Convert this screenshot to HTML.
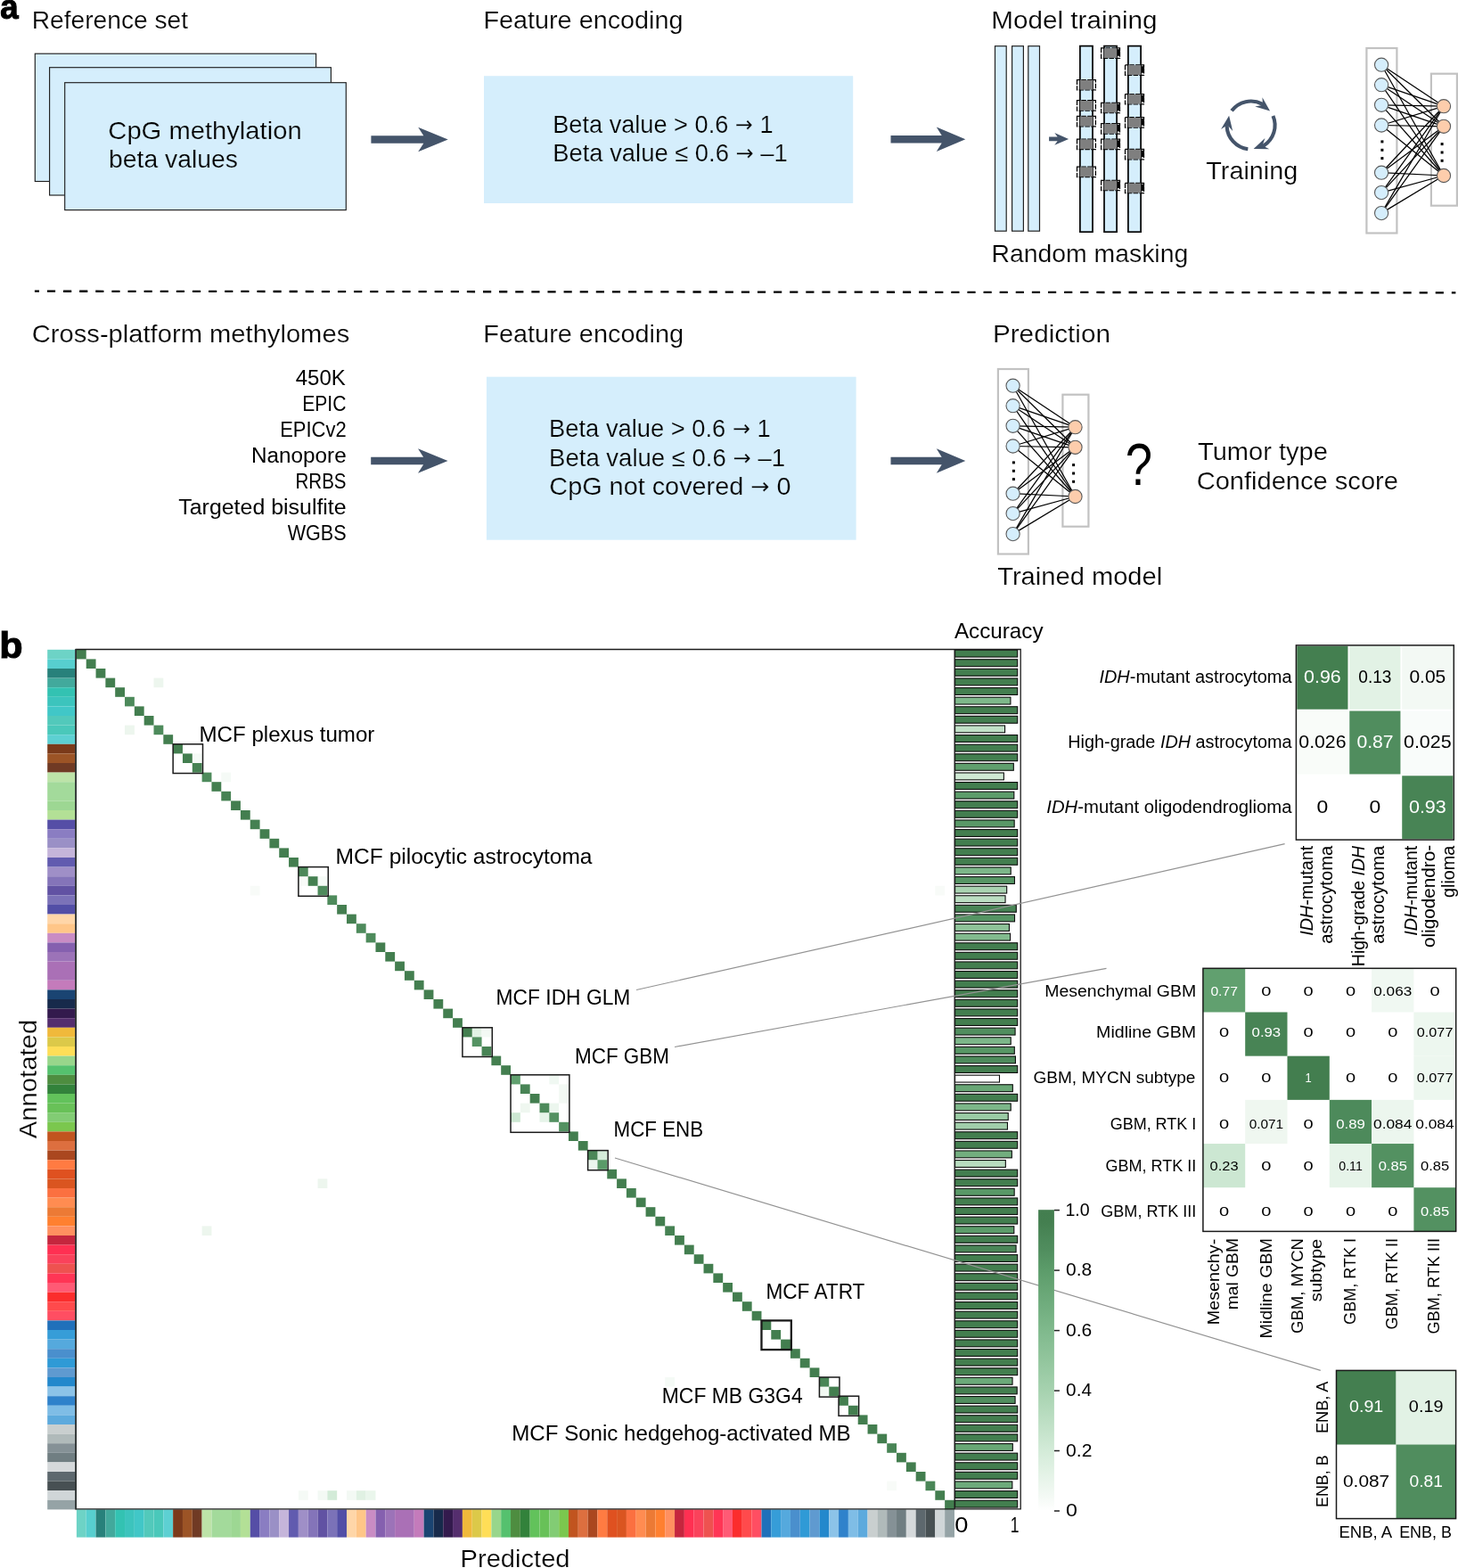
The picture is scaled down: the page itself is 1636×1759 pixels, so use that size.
<!DOCTYPE html>
<html lang="en"><head><meta charset="utf-8"><title>Figure</title>
<style>html,body{margin:0;padding:0;background:#fff}body{width:1636px;height:1759px;overflow:hidden}svg{display:block}</style>
</head><body>
<svg width="1636" height="1759" viewBox="0 0 1636 1759" font-family="'Liberation Sans', sans-serif" fill="#000">
<text font-size="38.5" font-weight="bold" stroke="#000" stroke-width="1.1" textLength="20.38" lengthAdjust="spacingAndGlyphs" x="0.29" y="21.00">a</text>
<text font-size="27.5" stroke="#fff" stroke-width="0.22" textLength="175.32" lengthAdjust="spacingAndGlyphs" x="35.75" y="32.10">Reference set</text>
<text font-size="27.5" stroke="#fff" stroke-width="0.22" textLength="224.13" lengthAdjust="spacingAndGlyphs" x="542.40" y="32.10">Feature encoding</text>
<text font-size="27.5" stroke="#fff" stroke-width="0.22" textLength="186.17" lengthAdjust="spacingAndGlyphs" x="1112.33" y="32.10">Model training</text>
<rect x="39.3" y="60.2" width="315.3" height="143.3" fill="#d5eefc" stroke="#1f1f1f" stroke-width="1.15"/>
<rect x="55.6" y="75.7" width="315.8" height="143.3" fill="#d5eefc" stroke="#1f1f1f" stroke-width="1.15"/>
<rect x="72.7" y="92.7" width="315.6" height="142.9" fill="#d5eefc" stroke="#1f1f1f" stroke-width="1.15"/>
<text font-size="27.5" stroke="#d5eefc" stroke-width="0.22" textLength="217.30" lengthAdjust="spacingAndGlyphs" x="121.34" y="155.80">CpG methylation</text>
<text font-size="27.5" stroke="#d5eefc" stroke-width="0.22" textLength="144.86" lengthAdjust="spacingAndGlyphs" x="122.03" y="188.20">beta values</text>
<polygon points="416.4,152.2 475.3,152.2 469.2,142.8 502.7,156.5 469.2,170.2 475.3,160.8 416.4,160.8" fill="#44546a"/>
<rect x="543" y="85.2" width="414.2" height="142.8" fill="#d5eefc"/>
<text font-size="27.5" stroke="#d5eefc" stroke-width="0.22" textLength="247.30" lengthAdjust="spacingAndGlyphs" x="620.23" y="148.60">Beta value &gt; 0.6 <tspan font-family="'DejaVu Sans', 'Liberation Sans', sans-serif" font-size="24.2" dy="-1.0">→</tspan><tspan dy="1.0"> 1</tspan></text>
<text font-size="27.5" stroke="#d5eefc" stroke-width="0.22" textLength="263.60" lengthAdjust="spacingAndGlyphs" x="620.21" y="180.90">Beta value ≤ 0.6 <tspan font-family="'DejaVu Sans', 'Liberation Sans', sans-serif" font-size="24.2" dy="-1.0">→</tspan><tspan dy="1.0"> –1</tspan></text>
<polygon points="999.5,152.1 1056.7,152.1 1050.8,142.6 1083.3,156.3 1050.8,170.0 1056.7,160.6 999.5,160.6" fill="#44546a"/>
<rect x="1116.5" y="51.7" width="12.7" height="207.5" fill="#d5eefc" stroke="#222" stroke-width="1.2"/>
<rect x="1135.6" y="51.7" width="12.8" height="207.5" fill="#d5eefc" stroke="#222" stroke-width="1.2"/>
<rect x="1153.8" y="51.7" width="12.7" height="207.5" fill="#d5eefc" stroke="#222" stroke-width="1.2"/>
<polygon points="1177.1,153.6 1186.6,153.6 1183.3,149.0 1199.1,155.9 1183.3,162.8 1186.6,158.2 1177.1,158.2" fill="#44546a"/>
<rect x="1211.9" y="51.6" width="14.1" height="208.6" fill="#d5eefc" stroke="#000" stroke-width="1.7"/>
<rect x="1208.5" y="89.5" width="20.9" height="11.4" fill="none" stroke="#000" stroke-width="1.25" stroke-dasharray="5.5 1.3" stroke-dashoffset="2"/>
<rect x="1211.8" y="89.8" width="14.3" height="10.8" fill="#7f7f7f"/>
<rect x="1208.5" y="112.7" width="20.9" height="11.4" fill="none" stroke="#000" stroke-width="1.25" stroke-dasharray="5.5 1.3" stroke-dashoffset="2"/>
<rect x="1211.8" y="113.0" width="14.3" height="10.8" fill="#7f7f7f"/>
<rect x="1208.5" y="130.4" width="20.9" height="11.4" fill="none" stroke="#000" stroke-width="1.25" stroke-dasharray="5.5 1.3" stroke-dashoffset="2"/>
<rect x="1211.8" y="130.7" width="14.3" height="10.8" fill="#7f7f7f"/>
<rect x="1208.5" y="156.1" width="20.9" height="11.4" fill="none" stroke="#000" stroke-width="1.25" stroke-dasharray="5.5 1.3" stroke-dashoffset="2"/>
<rect x="1211.8" y="156.4" width="14.3" height="10.8" fill="#7f7f7f"/>
<rect x="1208.5" y="187.2" width="20.9" height="11.4" fill="none" stroke="#000" stroke-width="1.25" stroke-dasharray="5.5 1.3" stroke-dashoffset="2"/>
<rect x="1211.8" y="187.5" width="14.3" height="10.8" fill="#7f7f7f"/>
<rect x="1239.0" y="51.6" width="14.1" height="208.6" fill="#d5eefc" stroke="#000" stroke-width="1.7"/>
<rect x="1235.6" y="53.9" width="20.9" height="11.4" fill="none" stroke="#000" stroke-width="1.25" stroke-dasharray="5.5 1.3" stroke-dashoffset="2"/>
<rect x="1238.9" y="54.2" width="14.3" height="10.8" fill="#7f7f7f"/>
<rect x="1254.0" y="55.2" width="3" height="7.6" fill="#000"/>
<rect x="1235.6" y="115.3" width="20.9" height="11.4" fill="none" stroke="#000" stroke-width="1.25" stroke-dasharray="5.5 1.3" stroke-dashoffset="2"/>
<rect x="1238.9" y="115.6" width="14.3" height="10.8" fill="#7f7f7f"/>
<rect x="1254.0" y="116.6" width="3" height="7.6" fill="#000"/>
<rect x="1235.6" y="138.6" width="20.9" height="11.4" fill="none" stroke="#000" stroke-width="1.25" stroke-dasharray="5.5 1.3" stroke-dashoffset="2"/>
<rect x="1238.9" y="138.9" width="14.3" height="10.8" fill="#7f7f7f"/>
<rect x="1254.0" y="139.9" width="3" height="7.6" fill="#000"/>
<rect x="1235.6" y="156.1" width="20.9" height="11.4" fill="none" stroke="#000" stroke-width="1.25" stroke-dasharray="5.5 1.3" stroke-dashoffset="2"/>
<rect x="1238.9" y="156.4" width="14.3" height="10.8" fill="#7f7f7f"/>
<rect x="1254.0" y="157.4" width="3" height="7.6" fill="#000"/>
<rect x="1235.6" y="202.3" width="20.9" height="11.4" fill="none" stroke="#000" stroke-width="1.25" stroke-dasharray="5.5 1.3" stroke-dashoffset="2"/>
<rect x="1238.9" y="202.6" width="14.3" height="10.8" fill="#7f7f7f"/>
<rect x="1254.0" y="203.6" width="3" height="7.6" fill="#000"/>
<rect x="1265.9" y="51.6" width="14.2" height="208.6" fill="#d5eefc" stroke="#000" stroke-width="1.7"/>
<rect x="1262.5" y="72.9" width="21.0" height="11.4" fill="none" stroke="#000" stroke-width="1.25" stroke-dasharray="5.5 1.3" stroke-dashoffset="2"/>
<rect x="1265.8" y="73.2" width="14.4" height="10.8" fill="#7f7f7f"/>
<rect x="1281.0" y="74.2" width="3" height="7.6" fill="#000"/>
<rect x="1262.5" y="105.5" width="21.0" height="11.4" fill="none" stroke="#000" stroke-width="1.25" stroke-dasharray="5.5 1.3" stroke-dashoffset="2"/>
<rect x="1265.8" y="105.8" width="14.4" height="10.8" fill="#7f7f7f"/>
<rect x="1281.0" y="106.8" width="3" height="7.6" fill="#000"/>
<rect x="1262.5" y="131.7" width="21.0" height="11.4" fill="none" stroke="#000" stroke-width="1.25" stroke-dasharray="5.5 1.3" stroke-dashoffset="2"/>
<rect x="1265.8" y="132.0" width="14.4" height="10.8" fill="#7f7f7f"/>
<rect x="1281.0" y="133.0" width="3" height="7.6" fill="#000"/>
<rect x="1262.5" y="167.4" width="21.0" height="11.4" fill="none" stroke="#000" stroke-width="1.25" stroke-dasharray="5.5 1.3" stroke-dashoffset="2"/>
<rect x="1265.8" y="167.7" width="14.4" height="10.8" fill="#7f7f7f"/>
<rect x="1281.0" y="168.7" width="3" height="7.6" fill="#000"/>
<rect x="1262.5" y="205.3" width="21.0" height="11.4" fill="none" stroke="#000" stroke-width="1.25" stroke-dasharray="5.5 1.3" stroke-dashoffset="2"/>
<rect x="1265.8" y="205.6" width="14.4" height="10.8" fill="#7f7f7f"/>
<rect x="1281.0" y="206.6" width="3" height="7.6" fill="#000"/>
<text font-size="27.5" stroke="#fff" stroke-width="0.22" textLength="220.78" lengthAdjust="spacingAndGlyphs" x="1112.43" y="293.80">Random masking</text>
<path d="M1382.04 124.25 A27.0 27.0 0 0 1 1416.28 116.66" fill="none" stroke="#44546a" stroke-width="4.1"/>
<polygon points="1416.46,109.14 1425.06,124.62 1408.20,119.60 1414.95,118.22 1416.77,114.66" fill="#44546a"/>
<path d="M1428.45 129.95 A27.0 27.0 0 0 1 1417.91 163.40" fill="none" stroke="#44546a" stroke-width="4.1"/>
<polygon points="1424.33,167.32 1406.62,167.03 1419.40,154.93 1417.22,161.47 1419.39,164.82" fill="#44546a"/>
<path d="M1400.31 167.30 A27.0 27.0 0 0 1 1376.62 141.44" fill="none" stroke="#44546a" stroke-width="4.1"/>
<polygon points="1370.01,145.04 1379.11,129.85 1383.20,146.97 1378.63,141.81 1374.64,142.02" fill="#44546a"/>
<text font-size="27.5" stroke="#fff" stroke-width="0.22" textLength="102.90" lengthAdjust="spacingAndGlyphs" x="1353.32" y="200.60">Training</text>
<rect x="1533.4" y="54.0" width="34" height="207.5" fill="none" stroke="#c2c2c2" stroke-width="2.2"/>
<rect x="1605.9" y="82.7" width="29" height="148" fill="none" stroke="#c2c2c2" stroke-width="2.2"/>
<line x1="1550.1" y1="72.7" x2="1620.0" y2="119.2" stroke="#000" stroke-width="1.25"/>
<line x1="1550.1" y1="72.7" x2="1620.0" y2="141.8" stroke="#000" stroke-width="1.25"/>
<line x1="1550.1" y1="72.7" x2="1620.0" y2="197.0" stroke="#000" stroke-width="1.25"/>
<line x1="1550.1" y1="95.2" x2="1620.0" y2="119.2" stroke="#000" stroke-width="1.25"/>
<line x1="1550.1" y1="95.2" x2="1620.0" y2="141.8" stroke="#000" stroke-width="1.25"/>
<line x1="1550.1" y1="95.2" x2="1620.0" y2="197.0" stroke="#000" stroke-width="1.25"/>
<line x1="1550.1" y1="117.8" x2="1620.0" y2="119.2" stroke="#000" stroke-width="1.25"/>
<line x1="1550.1" y1="117.8" x2="1620.0" y2="141.8" stroke="#000" stroke-width="1.25"/>
<line x1="1550.1" y1="117.8" x2="1620.0" y2="197.0" stroke="#000" stroke-width="1.25"/>
<line x1="1550.1" y1="140.5" x2="1620.0" y2="119.2" stroke="#000" stroke-width="1.25"/>
<line x1="1550.1" y1="140.5" x2="1620.0" y2="141.8" stroke="#000" stroke-width="1.25"/>
<line x1="1550.1" y1="140.5" x2="1620.0" y2="197.0" stroke="#000" stroke-width="1.25"/>
<line x1="1550.1" y1="193.7" x2="1620.0" y2="119.2" stroke="#000" stroke-width="1.25"/>
<line x1="1550.1" y1="193.7" x2="1620.0" y2="141.8" stroke="#000" stroke-width="1.25"/>
<line x1="1550.1" y1="193.7" x2="1620.0" y2="197.0" stroke="#000" stroke-width="1.25"/>
<line x1="1550.1" y1="216.1" x2="1620.0" y2="119.2" stroke="#000" stroke-width="1.25"/>
<line x1="1550.1" y1="216.1" x2="1620.0" y2="141.8" stroke="#000" stroke-width="1.25"/>
<line x1="1550.1" y1="216.1" x2="1620.0" y2="197.0" stroke="#000" stroke-width="1.25"/>
<line x1="1550.1" y1="239.1" x2="1620.0" y2="119.2" stroke="#000" stroke-width="1.25"/>
<line x1="1550.1" y1="239.1" x2="1620.0" y2="141.8" stroke="#000" stroke-width="1.25"/>
<line x1="1550.1" y1="239.1" x2="1620.0" y2="197.0" stroke="#000" stroke-width="1.25"/>
<circle cx="1550.1" cy="72.7" r="7.6" fill="#d5eefc" stroke="#5a5a5a" stroke-width="1.1"/>
<circle cx="1550.1" cy="95.2" r="7.6" fill="#d5eefc" stroke="#5a5a5a" stroke-width="1.1"/>
<circle cx="1550.1" cy="117.8" r="7.6" fill="#d5eefc" stroke="#5a5a5a" stroke-width="1.1"/>
<circle cx="1550.1" cy="140.5" r="7.6" fill="#d5eefc" stroke="#5a5a5a" stroke-width="1.1"/>
<circle cx="1550.1" cy="193.7" r="7.6" fill="#d5eefc" stroke="#5a5a5a" stroke-width="1.1"/>
<circle cx="1550.1" cy="216.1" r="7.6" fill="#d5eefc" stroke="#5a5a5a" stroke-width="1.1"/>
<circle cx="1550.1" cy="239.1" r="7.6" fill="#d5eefc" stroke="#5a5a5a" stroke-width="1.1"/>
<circle cx="1620.0" cy="119.2" r="7.6" fill="#fdcdac" stroke="#5a5a5a" stroke-width="1.1"/>
<circle cx="1620.0" cy="141.8" r="7.6" fill="#fdcdac" stroke="#5a5a5a" stroke-width="1.1"/>
<circle cx="1620.0" cy="197.0" r="7.6" fill="#fdcdac" stroke="#5a5a5a" stroke-width="1.1"/>
<rect x="1549.4" y="157.4" width="3" height="3" fill="#000"/>
<rect x="1549.4" y="166.8" width="3" height="3" fill="#000"/>
<rect x="1549.4" y="176.1" width="3" height="3" fill="#000"/>
<rect x="1616.6" y="160.1" width="3" height="3" fill="#000"/>
<rect x="1616.6" y="169.5" width="3" height="3" fill="#000"/>
<rect x="1616.6" y="178.8" width="3" height="3" fill="#000"/>
<line x1="38.9" y1="326.7" x2="1633.4" y2="328.4" stroke="#000" stroke-width="2.3" stroke-dasharray="9.2 8.914" stroke-dashoffset="4.1"/>
<text font-size="27.5" stroke="#fff" stroke-width="0.22" textLength="356.49" lengthAdjust="spacingAndGlyphs" x="35.74" y="383.90">Cross-platform methylomes</text>
<text font-size="27.5" stroke="#fff" stroke-width="0.22" textLength="224.64" lengthAdjust="spacingAndGlyphs" x="542.39" y="383.90">Feature encoding</text>
<text font-size="27.5" stroke="#fff" stroke-width="0.22" textLength="132.09" lengthAdjust="spacingAndGlyphs" x="1113.92" y="383.90">Prediction</text>
<text font-size="23.3" textLength="56.09" lengthAdjust="spacingAndGlyphs" x="331.76" y="431.80">450K</text>
<text font-size="23.3" textLength="49.15" lengthAdjust="spacingAndGlyphs" x="339.22" y="460.60">EPIC</text>
<text font-size="23.3" textLength="74.40" lengthAdjust="spacingAndGlyphs" x="314.24" y="489.60">EPICv2</text>
<text font-size="23.3" textLength="106.63" lengthAdjust="spacingAndGlyphs" x="282.06" y="518.70">Nanopore</text>
<text font-size="23.3" textLength="56.93" lengthAdjust="spacingAndGlyphs" x="331.56" y="547.60">RRBS</text>
<text font-size="23.3" textLength="188.37" lengthAdjust="spacingAndGlyphs" x="200.30" y="576.90">Targeted bisulfite</text>
<text font-size="23.3" textLength="65.94" lengthAdjust="spacingAndGlyphs" x="322.65" y="605.60">WGBS</text>
<polygon points="416.2,512.8 475.1,512.8 469.0,503.3 502.5,517.0 469.0,530.7 475.1,521.2 416.2,521.2" fill="#44546a"/>
<rect x="545.9" y="422.7" width="414.7" height="183" fill="#d5eefc"/>
<text font-size="27.5" stroke="#d5eefc" stroke-width="0.22" textLength="248.72" lengthAdjust="spacingAndGlyphs" x="616.11" y="489.50">Beta value &gt; 0.6 <tspan font-family="'DejaVu Sans', 'Liberation Sans', sans-serif" font-size="24.2" dy="-1.0">→</tspan><tspan dy="1.0"> 1</tspan></text>
<text font-size="27.5" stroke="#d5eefc" stroke-width="0.22" textLength="264.91" lengthAdjust="spacingAndGlyphs" x="616.10" y="522.50">Beta value ≤ 0.6 <tspan font-family="'DejaVu Sans', 'Liberation Sans', sans-serif" font-size="24.2" dy="-1.0">→</tspan><tspan dy="1.0"> –1</tspan></text>
<text font-size="27.5" stroke="#d5eefc" stroke-width="0.22" textLength="271.17" lengthAdjust="spacingAndGlyphs" x="616.36" y="554.90">CpG not covered <tspan font-family="'DejaVu Sans', 'Liberation Sans', sans-serif" font-size="24.2" dy="-1.0">→</tspan><tspan dy="1.0"> 0</tspan></text>
<polygon points="999.5,512.8 1056.7,512.8 1050.8,503.3 1083.3,517.0 1050.8,530.7 1056.7,521.2 999.5,521.2" fill="#44546a"/>
<rect x="1119.9" y="414.0" width="34" height="207.5" fill="none" stroke="#c2c2c2" stroke-width="2.2"/>
<rect x="1192.4" y="442.7" width="29" height="148" fill="none" stroke="#c2c2c2" stroke-width="2.2"/>
<line x1="1136.6" y1="432.7" x2="1206.5" y2="479.2" stroke="#000" stroke-width="1.25"/>
<line x1="1136.6" y1="432.7" x2="1206.5" y2="501.8" stroke="#000" stroke-width="1.25"/>
<line x1="1136.6" y1="432.7" x2="1206.5" y2="557.0" stroke="#000" stroke-width="1.25"/>
<line x1="1136.6" y1="455.2" x2="1206.5" y2="479.2" stroke="#000" stroke-width="1.25"/>
<line x1="1136.6" y1="455.2" x2="1206.5" y2="501.8" stroke="#000" stroke-width="1.25"/>
<line x1="1136.6" y1="455.2" x2="1206.5" y2="557.0" stroke="#000" stroke-width="1.25"/>
<line x1="1136.6" y1="477.8" x2="1206.5" y2="479.2" stroke="#000" stroke-width="1.25"/>
<line x1="1136.6" y1="477.8" x2="1206.5" y2="501.8" stroke="#000" stroke-width="1.25"/>
<line x1="1136.6" y1="477.8" x2="1206.5" y2="557.0" stroke="#000" stroke-width="1.25"/>
<line x1="1136.6" y1="500.5" x2="1206.5" y2="479.2" stroke="#000" stroke-width="1.25"/>
<line x1="1136.6" y1="500.5" x2="1206.5" y2="501.8" stroke="#000" stroke-width="1.25"/>
<line x1="1136.6" y1="500.5" x2="1206.5" y2="557.0" stroke="#000" stroke-width="1.25"/>
<line x1="1136.6" y1="553.7" x2="1206.5" y2="479.2" stroke="#000" stroke-width="1.25"/>
<line x1="1136.6" y1="553.7" x2="1206.5" y2="501.8" stroke="#000" stroke-width="1.25"/>
<line x1="1136.6" y1="553.7" x2="1206.5" y2="557.0" stroke="#000" stroke-width="1.25"/>
<line x1="1136.6" y1="576.1" x2="1206.5" y2="479.2" stroke="#000" stroke-width="1.25"/>
<line x1="1136.6" y1="576.1" x2="1206.5" y2="501.8" stroke="#000" stroke-width="1.25"/>
<line x1="1136.6" y1="576.1" x2="1206.5" y2="557.0" stroke="#000" stroke-width="1.25"/>
<line x1="1136.6" y1="599.1" x2="1206.5" y2="479.2" stroke="#000" stroke-width="1.25"/>
<line x1="1136.6" y1="599.1" x2="1206.5" y2="501.8" stroke="#000" stroke-width="1.25"/>
<line x1="1136.6" y1="599.1" x2="1206.5" y2="557.0" stroke="#000" stroke-width="1.25"/>
<circle cx="1136.6" cy="432.7" r="7.6" fill="#d5eefc" stroke="#5a5a5a" stroke-width="1.1"/>
<circle cx="1136.6" cy="455.2" r="7.6" fill="#d5eefc" stroke="#5a5a5a" stroke-width="1.1"/>
<circle cx="1136.6" cy="477.8" r="7.6" fill="#d5eefc" stroke="#5a5a5a" stroke-width="1.1"/>
<circle cx="1136.6" cy="500.5" r="7.6" fill="#d5eefc" stroke="#5a5a5a" stroke-width="1.1"/>
<circle cx="1136.6" cy="553.7" r="7.6" fill="#d5eefc" stroke="#5a5a5a" stroke-width="1.1"/>
<circle cx="1136.6" cy="576.1" r="7.6" fill="#d5eefc" stroke="#5a5a5a" stroke-width="1.1"/>
<circle cx="1136.6" cy="599.1" r="7.6" fill="#d5eefc" stroke="#5a5a5a" stroke-width="1.1"/>
<circle cx="1206.5" cy="479.2" r="7.6" fill="#fdcdac" stroke="#5a5a5a" stroke-width="1.1"/>
<circle cx="1206.5" cy="501.8" r="7.6" fill="#fdcdac" stroke="#5a5a5a" stroke-width="1.1"/>
<circle cx="1206.5" cy="557.0" r="7.6" fill="#fdcdac" stroke="#5a5a5a" stroke-width="1.1"/>
<rect x="1135.9" y="517.4" width="3" height="3" fill="#000"/>
<rect x="1135.9" y="526.8" width="3" height="3" fill="#000"/>
<rect x="1135.9" y="536.1" width="3" height="3" fill="#000"/>
<rect x="1203.1" y="520.1" width="3" height="3" fill="#000"/>
<rect x="1203.1" y="529.5" width="3" height="3" fill="#000"/>
<rect x="1203.1" y="538.8" width="3" height="3" fill="#000"/>
<text font-size="66.5" textLength="30.24" lengthAdjust="spacingAndGlyphs" x="1262.83" y="543.80">?</text>
<text font-size="27.5" stroke="#fff" stroke-width="0.22" textLength="145.82" lengthAdjust="spacingAndGlyphs" x="1344.02" y="515.70">Tumor type</text>
<text font-size="27.5" stroke="#fff" stroke-width="0.22" textLength="226.29" lengthAdjust="spacingAndGlyphs" x="1342.65" y="548.90">Confidence score</text>
<text font-size="27.5" stroke="#fff" stroke-width="0.22" textLength="184.98" lengthAdjust="spacingAndGlyphs" x="1119.22" y="656.20">Trained model</text>
<text font-size="40" font-weight="bold" stroke="#000" stroke-width="1.0" textLength="26.37" lengthAdjust="spacingAndGlyphs" x="-0.81" y="737.80">b</text>
<rect x="53.2" y="728.80" width="31.4" height="10.60" fill="#6DD3C6"/>
<rect x="53.2" y="739.40" width="31.4" height="10.60" fill="#57CFCF"/>
<rect x="53.2" y="750.00" width="31.4" height="10.60" fill="#28817B"/>
<rect x="53.2" y="760.60" width="31.4" height="10.60" fill="#42A99C"/>
<rect x="53.2" y="771.20" width="31.4" height="10.60" fill="#33C2B2"/>
<rect x="53.2" y="781.80" width="31.4" height="10.60" fill="#3CC4BD"/>
<rect x="53.2" y="792.40" width="31.4" height="10.60" fill="#41C7C7"/>
<rect x="53.2" y="803.00" width="31.4" height="10.60" fill="#52C9BB"/>
<rect x="53.2" y="813.60" width="31.4" height="10.60" fill="#4AC8BA"/>
<rect x="53.2" y="824.20" width="31.4" height="10.60" fill="#5DD0D2"/>
<rect x="53.2" y="834.80" width="31.4" height="10.60" fill="#7B3A1A"/>
<rect x="53.2" y="845.40" width="31.4" height="10.60" fill="#9C5426"/>
<rect x="53.2" y="856.00" width="31.4" height="10.60" fill="#703A24"/>
<rect x="53.2" y="866.60" width="31.4" height="10.60" fill="#BDE3A8"/>
<rect x="53.2" y="877.20" width="31.4" height="21.20" fill="#A3DA9B"/>
<rect x="53.2" y="898.40" width="31.4" height="10.60" fill="#9DD793"/>
<rect x="53.2" y="909.00" width="31.4" height="10.60" fill="#B3E096"/>
<rect x="53.2" y="919.60" width="31.4" height="10.60" fill="#554EA6"/>
<rect x="53.2" y="930.20" width="31.4" height="10.60" fill="#8A7DC2"/>
<rect x="53.2" y="940.80" width="31.4" height="10.60" fill="#9A90C6"/>
<rect x="53.2" y="951.40" width="31.4" height="10.60" fill="#C5B5DA"/>
<rect x="53.2" y="962.00" width="31.4" height="10.60" fill="#615BAF"/>
<rect x="53.2" y="972.60" width="31.4" height="10.60" fill="#9F8FC7"/>
<rect x="53.2" y="983.20" width="31.4" height="10.60" fill="#8474B9"/>
<rect x="53.2" y="993.80" width="31.4" height="10.60" fill="#6152A3"/>
<rect x="53.2" y="1004.40" width="31.4" height="10.60" fill="#7B72B8"/>
<rect x="53.2" y="1015.00" width="31.4" height="10.60" fill="#524EA6"/>
<rect x="53.2" y="1025.60" width="31.4" height="10.60" fill="#FFD6A8"/>
<rect x="53.2" y="1036.20" width="31.4" height="10.60" fill="#FFC688"/>
<rect x="53.2" y="1046.80" width="31.4" height="10.60" fill="#C98CC4"/>
<rect x="53.2" y="1057.40" width="31.4" height="10.60" fill="#8560AF"/>
<rect x="53.2" y="1068.00" width="31.4" height="10.60" fill="#9C73B8"/>
<rect x="53.2" y="1078.60" width="31.4" height="21.20" fill="#AA70B6"/>
<rect x="53.2" y="1099.80" width="31.4" height="10.60" fill="#C47BBB"/>
<rect x="53.2" y="1110.40" width="31.4" height="10.60" fill="#1A4472"/>
<rect x="53.2" y="1121.00" width="31.4" height="10.60" fill="#172A4B"/>
<rect x="53.2" y="1131.60" width="31.4" height="10.60" fill="#331A4D"/>
<rect x="53.2" y="1142.20" width="31.4" height="10.60" fill="#552E6E"/>
<rect x="53.2" y="1152.80" width="31.4" height="10.60" fill="#F0B93B"/>
<rect x="53.2" y="1163.40" width="31.4" height="10.60" fill="#DCC949"/>
<rect x="53.2" y="1174.00" width="31.4" height="10.60" fill="#FFDE57"/>
<rect x="53.2" y="1184.60" width="31.4" height="10.60" fill="#98D68B"/>
<rect x="53.2" y="1195.20" width="31.4" height="10.60" fill="#55C16E"/>
<rect x="53.2" y="1205.80" width="31.4" height="10.60" fill="#4E8D40"/>
<rect x="53.2" y="1216.40" width="31.4" height="10.60" fill="#32823B"/>
<rect x="53.2" y="1227.00" width="31.4" height="10.60" fill="#62C25B"/>
<rect x="53.2" y="1237.60" width="31.4" height="10.60" fill="#68C158"/>
<rect x="53.2" y="1248.20" width="31.4" height="10.60" fill="#82CC74"/>
<rect x="53.2" y="1258.80" width="31.4" height="10.60" fill="#7BC74E"/>
<rect x="53.2" y="1269.40" width="31.4" height="10.60" fill="#C1541F"/>
<rect x="53.2" y="1280.00" width="31.4" height="10.60" fill="#DD6F3F"/>
<rect x="53.2" y="1290.60" width="31.4" height="10.60" fill="#AA471F"/>
<rect x="53.2" y="1301.20" width="31.4" height="10.60" fill="#FF7B42"/>
<rect x="53.2" y="1311.80" width="31.4" height="10.60" fill="#DF5120"/>
<rect x="53.2" y="1322.40" width="31.4" height="10.60" fill="#DA5520"/>
<rect x="53.2" y="1333.00" width="31.4" height="10.60" fill="#FB7040"/>
<rect x="53.2" y="1343.60" width="31.4" height="10.60" fill="#FF8C51"/>
<rect x="53.2" y="1354.20" width="31.4" height="10.60" fill="#EC7A35"/>
<rect x="53.2" y="1364.80" width="31.4" height="10.60" fill="#FF8030"/>
<rect x="53.2" y="1375.40" width="31.4" height="10.60" fill="#FF9060"/>
<rect x="53.2" y="1386.00" width="31.4" height="10.60" fill="#C5263E"/>
<rect x="53.2" y="1396.60" width="31.4" height="10.60" fill="#FF3052"/>
<rect x="53.2" y="1407.20" width="31.4" height="10.60" fill="#FA425B"/>
<rect x="53.2" y="1417.80" width="31.4" height="10.60" fill="#EE5250"/>
<rect x="53.2" y="1428.40" width="31.4" height="10.60" fill="#FF3555"/>
<rect x="53.2" y="1439.00" width="31.4" height="10.60" fill="#FF5A75"/>
<rect x="53.2" y="1449.60" width="31.4" height="10.60" fill="#FB2D2D"/>
<rect x="53.2" y="1460.20" width="31.4" height="10.60" fill="#FF4A4C"/>
<rect x="53.2" y="1470.80" width="31.4" height="10.60" fill="#FF4E62"/>
<rect x="53.2" y="1481.40" width="31.4" height="10.60" fill="#2070BA"/>
<rect x="53.2" y="1492.00" width="31.4" height="10.60" fill="#369DD8"/>
<rect x="53.2" y="1502.60" width="31.4" height="10.60" fill="#55A9DD"/>
<rect x="53.2" y="1513.20" width="31.4" height="10.60" fill="#4A8FCD"/>
<rect x="53.2" y="1523.80" width="31.4" height="10.60" fill="#2F9AD6"/>
<rect x="53.2" y="1534.40" width="31.4" height="10.60" fill="#5F9AD0"/>
<rect x="53.2" y="1545.00" width="31.4" height="10.60" fill="#2388CC"/>
<rect x="53.2" y="1555.60" width="31.4" height="10.60" fill="#8CC3E8"/>
<rect x="53.2" y="1566.20" width="31.4" height="10.60" fill="#2F82CB"/>
<rect x="53.2" y="1576.80" width="31.4" height="10.60" fill="#7FBDE6"/>
<rect x="53.2" y="1587.40" width="31.4" height="10.60" fill="#5DAADD"/>
<rect x="53.2" y="1598.00" width="31.4" height="10.60" fill="#C9CFCF"/>
<rect x="53.2" y="1608.60" width="31.4" height="10.60" fill="#B0BABA"/>
<rect x="53.2" y="1619.20" width="31.4" height="10.60" fill="#859196"/>
<rect x="53.2" y="1629.80" width="31.4" height="10.60" fill="#707E82"/>
<rect x="53.2" y="1640.40" width="31.4" height="10.60" fill="#D5D9DB"/>
<rect x="53.2" y="1651.00" width="31.4" height="10.60" fill="#5D686E"/>
<rect x="53.2" y="1661.60" width="31.4" height="10.60" fill="#475053"/>
<rect x="53.2" y="1672.20" width="31.4" height="10.60" fill="#D0D6D8"/>
<rect x="53.2" y="1682.80" width="31.4" height="10.60" fill="#95A3A6"/>
<rect x="85.90" y="1693.3" width="10.82" height="31.3" fill="#6DD3C6"/>
<rect x="96.73" y="1693.3" width="10.82" height="31.3" fill="#57CFCF"/>
<rect x="107.55" y="1693.3" width="10.82" height="31.3" fill="#28817B"/>
<rect x="118.38" y="1693.3" width="10.82" height="31.3" fill="#42A99C"/>
<rect x="129.20" y="1693.3" width="10.82" height="31.3" fill="#33C2B2"/>
<rect x="140.03" y="1693.3" width="10.82" height="31.3" fill="#3CC4BD"/>
<rect x="150.85" y="1693.3" width="10.82" height="31.3" fill="#41C7C7"/>
<rect x="161.68" y="1693.3" width="10.82" height="31.3" fill="#52C9BB"/>
<rect x="172.50" y="1693.3" width="10.82" height="31.3" fill="#4AC8BA"/>
<rect x="183.32" y="1693.3" width="10.82" height="31.3" fill="#5DD0D2"/>
<rect x="194.15" y="1693.3" width="10.82" height="31.3" fill="#7B3A1A"/>
<rect x="204.97" y="1693.3" width="10.82" height="31.3" fill="#9C5426"/>
<rect x="215.80" y="1693.3" width="10.82" height="31.3" fill="#703A24"/>
<rect x="226.62" y="1693.3" width="10.82" height="31.3" fill="#BDE3A8"/>
<rect x="237.45" y="1693.3" width="21.65" height="31.3" fill="#A3DA9B"/>
<rect x="259.10" y="1693.3" width="10.82" height="31.3" fill="#9DD793"/>
<rect x="269.92" y="1693.3" width="10.82" height="31.3" fill="#B3E096"/>
<rect x="280.75" y="1693.3" width="10.82" height="31.3" fill="#554EA6"/>
<rect x="291.57" y="1693.3" width="10.82" height="31.3" fill="#8A7DC2"/>
<rect x="302.40" y="1693.3" width="10.82" height="31.3" fill="#9A90C6"/>
<rect x="313.23" y="1693.3" width="10.82" height="31.3" fill="#C5B5DA"/>
<rect x="324.05" y="1693.3" width="10.82" height="31.3" fill="#615BAF"/>
<rect x="334.88" y="1693.3" width="10.82" height="31.3" fill="#9F8FC7"/>
<rect x="345.70" y="1693.3" width="10.82" height="31.3" fill="#8474B9"/>
<rect x="356.52" y="1693.3" width="10.82" height="31.3" fill="#6152A3"/>
<rect x="367.35" y="1693.3" width="10.82" height="31.3" fill="#7B72B8"/>
<rect x="378.17" y="1693.3" width="10.82" height="31.3" fill="#524EA6"/>
<rect x="389.00" y="1693.3" width="10.82" height="31.3" fill="#FFD6A8"/>
<rect x="399.82" y="1693.3" width="10.82" height="31.3" fill="#FFC688"/>
<rect x="410.65" y="1693.3" width="10.82" height="31.3" fill="#C98CC4"/>
<rect x="421.48" y="1693.3" width="10.82" height="31.3" fill="#8560AF"/>
<rect x="432.30" y="1693.3" width="10.82" height="31.3" fill="#9C73B8"/>
<rect x="443.12" y="1693.3" width="21.65" height="31.3" fill="#AA70B6"/>
<rect x="464.77" y="1693.3" width="10.82" height="31.3" fill="#C47BBB"/>
<rect x="475.60" y="1693.3" width="10.82" height="31.3" fill="#1A4472"/>
<rect x="486.42" y="1693.3" width="10.82" height="31.3" fill="#172A4B"/>
<rect x="497.25" y="1693.3" width="10.82" height="31.3" fill="#331A4D"/>
<rect x="508.07" y="1693.3" width="10.82" height="31.3" fill="#552E6E"/>
<rect x="518.90" y="1693.3" width="10.82" height="31.3" fill="#F0B93B"/>
<rect x="529.73" y="1693.3" width="10.82" height="31.3" fill="#DCC949"/>
<rect x="540.55" y="1693.3" width="10.82" height="31.3" fill="#FFDE57"/>
<rect x="551.38" y="1693.3" width="10.82" height="31.3" fill="#98D68B"/>
<rect x="562.20" y="1693.3" width="10.82" height="31.3" fill="#55C16E"/>
<rect x="573.02" y="1693.3" width="10.82" height="31.3" fill="#4E8D40"/>
<rect x="583.85" y="1693.3" width="10.82" height="31.3" fill="#32823B"/>
<rect x="594.67" y="1693.3" width="10.82" height="31.3" fill="#62C25B"/>
<rect x="605.50" y="1693.3" width="10.82" height="31.3" fill="#68C158"/>
<rect x="616.32" y="1693.3" width="10.82" height="31.3" fill="#82CC74"/>
<rect x="627.15" y="1693.3" width="10.82" height="31.3" fill="#7BC74E"/>
<rect x="637.97" y="1693.3" width="10.82" height="31.3" fill="#C1541F"/>
<rect x="648.80" y="1693.3" width="10.82" height="31.3" fill="#DD6F3F"/>
<rect x="659.62" y="1693.3" width="10.82" height="31.3" fill="#AA471F"/>
<rect x="670.45" y="1693.3" width="10.82" height="31.3" fill="#FF7B42"/>
<rect x="681.27" y="1693.3" width="10.82" height="31.3" fill="#DF5120"/>
<rect x="692.10" y="1693.3" width="10.82" height="31.3" fill="#DA5520"/>
<rect x="702.92" y="1693.3" width="10.82" height="31.3" fill="#FB7040"/>
<rect x="713.75" y="1693.3" width="10.82" height="31.3" fill="#FF8C51"/>
<rect x="724.57" y="1693.3" width="10.82" height="31.3" fill="#EC7A35"/>
<rect x="735.40" y="1693.3" width="10.82" height="31.3" fill="#FF8030"/>
<rect x="746.22" y="1693.3" width="10.82" height="31.3" fill="#FF9060"/>
<rect x="757.05" y="1693.3" width="10.82" height="31.3" fill="#C5263E"/>
<rect x="767.87" y="1693.3" width="10.82" height="31.3" fill="#FF3052"/>
<rect x="778.70" y="1693.3" width="10.82" height="31.3" fill="#FA425B"/>
<rect x="789.52" y="1693.3" width="10.82" height="31.3" fill="#EE5250"/>
<rect x="800.35" y="1693.3" width="10.82" height="31.3" fill="#FF3555"/>
<rect x="811.17" y="1693.3" width="10.82" height="31.3" fill="#FF5A75"/>
<rect x="822.00" y="1693.3" width="10.82" height="31.3" fill="#FB2D2D"/>
<rect x="832.82" y="1693.3" width="10.82" height="31.3" fill="#FF4A4C"/>
<rect x="843.65" y="1693.3" width="10.82" height="31.3" fill="#FF4E62"/>
<rect x="854.47" y="1693.3" width="10.82" height="31.3" fill="#2070BA"/>
<rect x="865.30" y="1693.3" width="10.82" height="31.3" fill="#369DD8"/>
<rect x="876.12" y="1693.3" width="10.82" height="31.3" fill="#55A9DD"/>
<rect x="886.95" y="1693.3" width="10.82" height="31.3" fill="#4A8FCD"/>
<rect x="897.77" y="1693.3" width="10.82" height="31.3" fill="#2F9AD6"/>
<rect x="908.60" y="1693.3" width="10.82" height="31.3" fill="#5F9AD0"/>
<rect x="919.42" y="1693.3" width="10.82" height="31.3" fill="#2388CC"/>
<rect x="930.25" y="1693.3" width="10.82" height="31.3" fill="#8CC3E8"/>
<rect x="941.07" y="1693.3" width="10.82" height="31.3" fill="#2F82CB"/>
<rect x="951.90" y="1693.3" width="10.82" height="31.3" fill="#7FBDE6"/>
<rect x="962.72" y="1693.3" width="10.82" height="31.3" fill="#5DAADD"/>
<rect x="973.55" y="1693.3" width="10.82" height="31.3" fill="#C9CFCF"/>
<rect x="984.37" y="1693.3" width="10.82" height="31.3" fill="#B0BABA"/>
<rect x="995.20" y="1693.3" width="10.82" height="31.3" fill="#859196"/>
<rect x="1006.02" y="1693.3" width="10.82" height="31.3" fill="#707E82"/>
<rect x="1016.85" y="1693.3" width="10.82" height="31.3" fill="#D5D9DB"/>
<rect x="1027.67" y="1693.3" width="10.82" height="31.3" fill="#5D686E"/>
<rect x="1038.50" y="1693.3" width="10.82" height="31.3" fill="#475053"/>
<rect x="1049.33" y="1693.3" width="10.82" height="31.3" fill="#D0D6D8"/>
<rect x="1060.15" y="1693.3" width="10.82" height="31.3" fill="#95A3A6"/>
<rect x="172.50" y="760.60" width="10.82" height="10.60" fill="#edf6ee"/>
<rect x="140.03" y="813.60" width="10.82" height="10.60" fill="#edf6ee"/>
<rect x="215.80" y="845.40" width="10.82" height="10.60" fill="#f5faf6"/>
<rect x="248.28" y="866.60" width="10.82" height="10.60" fill="#f5faf6"/>
<rect x="334.88" y="983.20" width="10.82" height="10.60" fill="#f8fbf8"/>
<rect x="356.52" y="983.20" width="10.82" height="10.60" fill="#f5faf6"/>
<rect x="280.75" y="993.80" width="10.82" height="10.60" fill="#f8fbf8"/>
<rect x="1049.33" y="993.80" width="10.82" height="10.60" fill="#f8fbf8"/>
<rect x="529.73" y="1152.80" width="10.82" height="10.60" fill="#e2f2e5"/>
<rect x="540.55" y="1152.80" width="10.82" height="10.60" fill="#f3f9f4"/>
<rect x="616.32" y="1205.80" width="10.82" height="10.60" fill="#f0f8f2"/>
<rect x="627.15" y="1216.40" width="10.82" height="10.60" fill="#f3f9f4"/>
<rect x="627.15" y="1227.00" width="10.82" height="10.60" fill="#f3f9f4"/>
<rect x="583.85" y="1237.60" width="10.82" height="10.60" fill="#eff7f0"/>
<rect x="616.32" y="1237.60" width="10.82" height="10.60" fill="#ecf6ee"/>
<rect x="573.02" y="1248.20" width="10.82" height="10.60" fill="#cce7d2"/>
<rect x="605.50" y="1248.20" width="10.82" height="10.60" fill="#e6f4e9"/>
<rect x="670.45" y="1290.60" width="10.82" height="10.60" fill="#d5ecda"/>
<rect x="659.62" y="1301.20" width="10.82" height="10.60" fill="#ebf6ed"/>
<rect x="356.52" y="1322.40" width="10.82" height="10.60" fill="#edf6ee"/>
<rect x="226.62" y="1375.40" width="10.82" height="10.60" fill="#edf6ee"/>
<rect x="746.22" y="1545.00" width="10.82" height="10.60" fill="#f5faf6"/>
<rect x="919.42" y="1555.60" width="10.82" height="10.60" fill="#f1f8f2"/>
<rect x="995.20" y="1661.60" width="10.82" height="10.60" fill="#f8fbf8"/>
<rect x="334.88" y="1672.20" width="10.82" height="10.60" fill="#f5faf6"/>
<rect x="356.52" y="1672.20" width="10.82" height="10.60" fill="#f3f9f4"/>
<rect x="367.35" y="1672.20" width="10.82" height="10.60" fill="#d3ebd8"/>
<rect x="389.00" y="1672.20" width="10.82" height="10.60" fill="#f3f9f4"/>
<rect x="399.82" y="1672.20" width="10.82" height="10.60" fill="#e0f1e3"/>
<rect x="410.65" y="1672.20" width="10.82" height="10.60" fill="#eaf6ec"/>
<rect x="85.90" y="728.80" width="10.82" height="10.60" fill="#437e4f"/>
<rect x="96.73" y="739.40" width="10.82" height="10.60" fill="#437e4f"/>
<rect x="107.55" y="750.00" width="10.82" height="10.60" fill="#437e4f"/>
<rect x="118.38" y="760.60" width="10.82" height="10.60" fill="#437e4f"/>
<rect x="129.20" y="771.20" width="10.82" height="10.60" fill="#437e4f"/>
<rect x="140.03" y="781.80" width="10.82" height="10.60" fill="#4d8a5b"/>
<rect x="150.85" y="792.40" width="10.82" height="10.60" fill="#437e4f"/>
<rect x="161.68" y="803.00" width="10.82" height="10.60" fill="#437e4f"/>
<rect x="172.50" y="813.60" width="10.82" height="10.60" fill="#4e8b5c"/>
<rect x="183.32" y="824.20" width="10.82" height="10.60" fill="#437e4f"/>
<rect x="194.15" y="834.80" width="10.82" height="10.60" fill="#437e4f"/>
<rect x="204.97" y="845.40" width="10.82" height="10.60" fill="#437e4f"/>
<rect x="215.80" y="856.00" width="10.82" height="10.60" fill="#478354"/>
<rect x="226.62" y="866.60" width="10.82" height="10.60" fill="#4e8b5c"/>
<rect x="237.45" y="877.20" width="10.82" height="10.60" fill="#437e4f"/>
<rect x="248.28" y="887.80" width="10.82" height="10.60" fill="#468253"/>
<rect x="259.10" y="898.40" width="10.82" height="10.60" fill="#437e4f"/>
<rect x="269.92" y="909.00" width="10.82" height="10.60" fill="#437e4f"/>
<rect x="280.75" y="919.60" width="10.82" height="10.60" fill="#458152"/>
<rect x="291.57" y="930.20" width="10.82" height="10.60" fill="#437e4f"/>
<rect x="302.40" y="940.80" width="10.82" height="10.60" fill="#437e4f"/>
<rect x="313.23" y="951.40" width="10.82" height="10.60" fill="#437e4f"/>
<rect x="324.05" y="962.00" width="10.82" height="10.60" fill="#437e4f"/>
<rect x="334.88" y="972.60" width="10.82" height="10.60" fill="#4d895a"/>
<rect x="345.70" y="983.20" width="10.82" height="10.60" fill="#458051"/>
<rect x="356.52" y="993.80" width="10.82" height="10.60" fill="#4e8b5c"/>
<rect x="367.35" y="1004.40" width="10.82" height="10.60" fill="#4e8b5c"/>
<rect x="378.17" y="1015.00" width="10.82" height="10.60" fill="#447e50"/>
<rect x="389.00" y="1025.60" width="10.82" height="10.60" fill="#458051"/>
<rect x="399.82" y="1036.20" width="10.82" height="10.60" fill="#4e8b5c"/>
<rect x="410.65" y="1046.80" width="10.82" height="10.60" fill="#4e8b5c"/>
<rect x="421.48" y="1057.40" width="10.82" height="10.60" fill="#437e4f"/>
<rect x="432.30" y="1068.00" width="10.82" height="10.60" fill="#437e4f"/>
<rect x="443.12" y="1078.60" width="10.82" height="10.60" fill="#437e4f"/>
<rect x="453.95" y="1089.20" width="10.82" height="10.60" fill="#437e4f"/>
<rect x="464.77" y="1099.80" width="10.82" height="10.60" fill="#437e4f"/>
<rect x="475.60" y="1110.40" width="10.82" height="10.60" fill="#437e4f"/>
<rect x="486.42" y="1121.00" width="10.82" height="10.60" fill="#437e4f"/>
<rect x="497.25" y="1131.60" width="10.82" height="10.60" fill="#437e4f"/>
<rect x="508.07" y="1142.20" width="10.82" height="10.60" fill="#437e4f"/>
<rect x="518.90" y="1152.80" width="10.82" height="10.60" fill="#447f50"/>
<rect x="529.73" y="1163.40" width="10.82" height="10.60" fill="#559363"/>
<rect x="540.55" y="1174.00" width="10.82" height="10.60" fill="#488455"/>
<rect x="551.38" y="1184.60" width="10.82" height="10.60" fill="#447f50"/>
<rect x="562.20" y="1195.20" width="10.82" height="10.60" fill="#437e4f"/>
<rect x="573.02" y="1205.80" width="10.82" height="10.60" fill="#61a06f"/>
<rect x="583.85" y="1216.40" width="10.82" height="10.60" fill="#488455"/>
<rect x="594.67" y="1227.00" width="10.82" height="10.60" fill="#437e4f"/>
<rect x="605.50" y="1237.60" width="10.82" height="10.60" fill="#4d8a5b"/>
<rect x="616.32" y="1248.20" width="10.82" height="10.60" fill="#539161"/>
<rect x="627.15" y="1258.80" width="10.82" height="10.60" fill="#539161"/>
<rect x="637.97" y="1269.40" width="10.82" height="10.60" fill="#437e4f"/>
<rect x="648.80" y="1280.00" width="10.82" height="10.60" fill="#437e4f"/>
<rect x="659.62" y="1290.60" width="10.82" height="10.60" fill="#4b8758"/>
<rect x="670.45" y="1301.20" width="10.82" height="10.60" fill="#5a9a68"/>
<rect x="681.27" y="1311.80" width="10.82" height="10.60" fill="#437e4f"/>
<rect x="692.10" y="1322.40" width="10.82" height="10.60" fill="#437e4f"/>
<rect x="702.92" y="1333.00" width="10.82" height="10.60" fill="#458152"/>
<rect x="713.75" y="1343.60" width="10.82" height="10.60" fill="#437e4f"/>
<rect x="724.57" y="1354.20" width="10.82" height="10.60" fill="#437e4f"/>
<rect x="735.40" y="1364.80" width="10.82" height="10.60" fill="#437e4f"/>
<rect x="746.22" y="1375.40" width="10.82" height="10.60" fill="#468253"/>
<rect x="757.05" y="1386.00" width="10.82" height="10.60" fill="#437e4f"/>
<rect x="767.87" y="1396.60" width="10.82" height="10.60" fill="#447f50"/>
<rect x="778.70" y="1407.20" width="10.82" height="10.60" fill="#437e4f"/>
<rect x="789.52" y="1417.80" width="10.82" height="10.60" fill="#437e4f"/>
<rect x="800.35" y="1428.40" width="10.82" height="10.60" fill="#437e4f"/>
<rect x="811.17" y="1439.00" width="10.82" height="10.60" fill="#437e4f"/>
<rect x="822.00" y="1449.60" width="10.82" height="10.60" fill="#437e4f"/>
<rect x="832.82" y="1460.20" width="10.82" height="10.60" fill="#437e4f"/>
<rect x="843.65" y="1470.80" width="10.82" height="10.60" fill="#437e4f"/>
<rect x="854.47" y="1481.40" width="10.82" height="10.60" fill="#437e4f"/>
<rect x="865.30" y="1492.00" width="10.82" height="10.60" fill="#437e4f"/>
<rect x="876.12" y="1502.60" width="10.82" height="10.60" fill="#437e4f"/>
<rect x="886.95" y="1513.20" width="10.82" height="10.60" fill="#437e4f"/>
<rect x="897.77" y="1523.80" width="10.82" height="10.60" fill="#437e4f"/>
<rect x="908.60" y="1534.40" width="10.82" height="10.60" fill="#437e4f"/>
<rect x="919.42" y="1545.00" width="10.82" height="10.60" fill="#498656"/>
<rect x="930.25" y="1555.60" width="10.82" height="10.60" fill="#437e4f"/>
<rect x="941.07" y="1566.20" width="10.82" height="10.60" fill="#447f50"/>
<rect x="951.90" y="1576.80" width="10.82" height="10.60" fill="#437e4f"/>
<rect x="962.72" y="1587.40" width="10.82" height="10.60" fill="#437e4f"/>
<rect x="973.55" y="1598.00" width="10.82" height="10.60" fill="#437e4f"/>
<rect x="984.37" y="1608.60" width="10.82" height="10.60" fill="#437e4f"/>
<rect x="995.20" y="1619.20" width="10.82" height="10.60" fill="#498556"/>
<rect x="1006.02" y="1629.80" width="10.82" height="10.60" fill="#437e4f"/>
<rect x="1016.85" y="1640.40" width="10.82" height="10.60" fill="#437e4f"/>
<rect x="1027.67" y="1651.00" width="10.82" height="10.60" fill="#437e4f"/>
<rect x="1038.50" y="1661.60" width="10.82" height="10.60" fill="#4a8657"/>
<rect x="1049.33" y="1672.20" width="10.82" height="10.60" fill="#437e4f"/>
<rect x="1060.15" y="1682.80" width="10.82" height="10.60" fill="#437e4f"/>
<rect x="194.15" y="834.80" width="33.37" height="32.70" fill="none" stroke="#1a1a1a" stroke-width="1.5"/>
<rect x="334.88" y="972.60" width="33.37" height="32.70" fill="none" stroke="#1a1a1a" stroke-width="1.5"/>
<rect x="518.90" y="1152.80" width="33.37" height="32.70" fill="none" stroke="#1a1a1a" stroke-width="1.5"/>
<rect x="573.02" y="1205.80" width="65.85" height="64.50" fill="none" stroke="#1a1a1a" stroke-width="1.5"/>
<rect x="659.62" y="1290.60" width="22.55" height="22.10" fill="none" stroke="#1a1a1a" stroke-width="1.5"/>
<rect x="854.47" y="1481.40" width="33.37" height="32.70" fill="none" stroke="#1a1a1a" stroke-width="2.3"/>
<rect x="919.42" y="1545.00" width="22.55" height="22.10" fill="none" stroke="#1a1a1a" stroke-width="1.5"/>
<rect x="941.07" y="1566.20" width="22.55" height="22.10" fill="none" stroke="#1a1a1a" stroke-width="1.5"/>
<rect x="1071.60" y="729.15" width="70.10" height="7.9" fill="#437e4f" stroke="#0d0d0d" stroke-width="1.1"/>
<rect x="1071.60" y="739.75" width="70.10" height="7.9" fill="#437e4f" stroke="#0d0d0d" stroke-width="1.1"/>
<rect x="1071.60" y="750.35" width="70.10" height="7.9" fill="#437e4f" stroke="#0d0d0d" stroke-width="1.1"/>
<rect x="1071.60" y="760.95" width="70.10" height="7.9" fill="#437e4f" stroke="#0d0d0d" stroke-width="1.1"/>
<rect x="1071.60" y="771.55" width="70.10" height="7.9" fill="#437e4f" stroke="#0d0d0d" stroke-width="1.1"/>
<rect x="1071.60" y="782.15" width="62.32" height="7.9" fill="#7eb88b" stroke="#0d0d0d" stroke-width="1.1"/>
<rect x="1071.60" y="792.75" width="70.10" height="7.9" fill="#437e4f" stroke="#0d0d0d" stroke-width="1.1"/>
<rect x="1071.60" y="803.35" width="70.10" height="7.9" fill="#437e4f" stroke="#0d0d0d" stroke-width="1.1"/>
<rect x="1071.60" y="813.95" width="55.96" height="7.9" fill="#c1e1c7" stroke="#0d0d0d" stroke-width="1.1"/>
<rect x="1071.60" y="824.55" width="70.10" height="7.9" fill="#437e4f" stroke="#0d0d0d" stroke-width="1.1"/>
<rect x="1071.60" y="835.15" width="70.10" height="7.9" fill="#437e4f" stroke="#0d0d0d" stroke-width="1.1"/>
<rect x="1071.60" y="845.75" width="70.10" height="7.9" fill="#437e4f" stroke="#0d0d0d" stroke-width="1.1"/>
<rect x="1071.60" y="856.35" width="65.72" height="7.9" fill="#609f6e" stroke="#0d0d0d" stroke-width="1.1"/>
<rect x="1071.60" y="866.95" width="54.76" height="7.9" fill="#cfe9d4" stroke="#0d0d0d" stroke-width="1.1"/>
<rect x="1071.60" y="877.55" width="70.10" height="7.9" fill="#437e4f" stroke="#0d0d0d" stroke-width="1.1"/>
<rect x="1071.60" y="888.15" width="66.21" height="7.9" fill="#5c9c6a" stroke="#0d0d0d" stroke-width="1.1"/>
<rect x="1071.60" y="898.75" width="70.10" height="7.9" fill="#437e4f" stroke="#0d0d0d" stroke-width="1.1"/>
<rect x="1071.60" y="909.35" width="70.10" height="7.9" fill="#437e4f" stroke="#0d0d0d" stroke-width="1.1"/>
<rect x="1071.60" y="919.95" width="66.57" height="7.9" fill="#599867" stroke="#0d0d0d" stroke-width="1.1"/>
<rect x="1071.60" y="930.55" width="70.10" height="7.9" fill="#437e4f" stroke="#0d0d0d" stroke-width="1.1"/>
<rect x="1071.60" y="941.15" width="70.10" height="7.9" fill="#437e4f" stroke="#0d0d0d" stroke-width="1.1"/>
<rect x="1071.60" y="951.75" width="70.10" height="7.9" fill="#437e4f" stroke="#0d0d0d" stroke-width="1.1"/>
<rect x="1071.60" y="962.35" width="70.10" height="7.9" fill="#437e4f" stroke="#0d0d0d" stroke-width="1.1"/>
<rect x="1071.60" y="972.95" width="62.61" height="7.9" fill="#7cb689" stroke="#0d0d0d" stroke-width="1.1"/>
<rect x="1071.60" y="983.55" width="66.85" height="7.9" fill="#569564" stroke="#0d0d0d" stroke-width="1.1"/>
<rect x="1071.60" y="994.15" width="58.08" height="7.9" fill="#a9d3b1" stroke="#0d0d0d" stroke-width="1.1"/>
<rect x="1071.60" y="1004.75" width="56.45" height="7.9" fill="#bbdec2" stroke="#0d0d0d" stroke-width="1.1"/>
<rect x="1071.60" y="1015.35" width="68.69" height="7.9" fill="#488455" stroke="#0d0d0d" stroke-width="1.1"/>
<rect x="1071.60" y="1025.95" width="66.92" height="7.9" fill="#559463" stroke="#0d0d0d" stroke-width="1.1"/>
<rect x="1071.60" y="1036.55" width="60.84" height="7.9" fill="#8dc298" stroke="#0d0d0d" stroke-width="1.1"/>
<rect x="1071.60" y="1047.15" width="61.97" height="7.9" fill="#82bb8e" stroke="#0d0d0d" stroke-width="1.1"/>
<rect x="1071.60" y="1057.75" width="70.10" height="7.9" fill="#437e4f" stroke="#0d0d0d" stroke-width="1.1"/>
<rect x="1071.60" y="1068.35" width="70.10" height="7.9" fill="#437e4f" stroke="#0d0d0d" stroke-width="1.1"/>
<rect x="1071.60" y="1078.95" width="70.10" height="7.9" fill="#437e4f" stroke="#0d0d0d" stroke-width="1.1"/>
<rect x="1071.60" y="1089.55" width="70.10" height="7.9" fill="#437e4f" stroke="#0d0d0d" stroke-width="1.1"/>
<rect x="1071.60" y="1100.15" width="70.10" height="7.9" fill="#437e4f" stroke="#0d0d0d" stroke-width="1.1"/>
<rect x="1071.60" y="1110.75" width="70.10" height="7.9" fill="#437e4f" stroke="#0d0d0d" stroke-width="1.1"/>
<rect x="1071.60" y="1121.35" width="70.10" height="7.9" fill="#437e4f" stroke="#0d0d0d" stroke-width="1.1"/>
<rect x="1071.60" y="1131.95" width="70.10" height="7.9" fill="#437e4f" stroke="#0d0d0d" stroke-width="1.1"/>
<rect x="1071.60" y="1142.55" width="70.10" height="7.9" fill="#437e4f" stroke="#0d0d0d" stroke-width="1.1"/>
<rect x="1071.60" y="1153.15" width="67.48" height="7.9" fill="#518e5f" stroke="#0d0d0d" stroke-width="1.1"/>
<rect x="1071.60" y="1163.75" width="62.61" height="7.9" fill="#7cb689" stroke="#0d0d0d" stroke-width="1.1"/>
<rect x="1071.60" y="1174.35" width="66.71" height="7.9" fill="#579665" stroke="#0d0d0d" stroke-width="1.1"/>
<rect x="1071.60" y="1184.95" width="67.84" height="7.9" fill="#4e8b5c" stroke="#0d0d0d" stroke-width="1.1"/>
<rect x="1071.60" y="1195.55" width="70.10" height="7.9" fill="#437e4f" stroke="#0d0d0d" stroke-width="1.1"/>
<rect x="1071.60" y="1206.15" width="49.88" height="7.9" fill="#ffffff" stroke="#0d0d0d" stroke-width="1.1"/>
<rect x="1071.60" y="1216.75" width="64.73" height="7.9" fill="#69a776" stroke="#0d0d0d" stroke-width="1.1"/>
<rect x="1071.60" y="1227.35" width="70.10" height="7.9" fill="#437e4f" stroke="#0d0d0d" stroke-width="1.1"/>
<rect x="1071.60" y="1237.95" width="62.61" height="7.9" fill="#7cb689" stroke="#0d0d0d" stroke-width="1.1"/>
<rect x="1071.60" y="1248.55" width="59.64" height="7.9" fill="#99caa3" stroke="#0d0d0d" stroke-width="1.1"/>
<rect x="1071.60" y="1259.15" width="58.86" height="7.9" fill="#a1ceaa" stroke="#0d0d0d" stroke-width="1.1"/>
<rect x="1071.60" y="1269.75" width="70.10" height="7.9" fill="#437e4f" stroke="#0d0d0d" stroke-width="1.1"/>
<rect x="1071.60" y="1280.35" width="70.10" height="7.9" fill="#437e4f" stroke="#0d0d0d" stroke-width="1.1"/>
<rect x="1071.60" y="1290.95" width="63.74" height="7.9" fill="#72ae7f" stroke="#0d0d0d" stroke-width="1.1"/>
<rect x="1071.60" y="1301.55" width="56.74" height="7.9" fill="#b8dcbf" stroke="#0d0d0d" stroke-width="1.1"/>
<rect x="1071.60" y="1312.15" width="70.10" height="7.9" fill="#437e4f" stroke="#0d0d0d" stroke-width="1.1"/>
<rect x="1071.60" y="1322.75" width="70.10" height="7.9" fill="#437e4f" stroke="#0d0d0d" stroke-width="1.1"/>
<rect x="1071.60" y="1333.35" width="66.57" height="7.9" fill="#599867" stroke="#0d0d0d" stroke-width="1.1"/>
<rect x="1071.60" y="1343.95" width="70.10" height="7.9" fill="#437e4f" stroke="#0d0d0d" stroke-width="1.1"/>
<rect x="1071.60" y="1354.55" width="70.10" height="7.9" fill="#437e4f" stroke="#0d0d0d" stroke-width="1.1"/>
<rect x="1071.60" y="1365.15" width="70.10" height="7.9" fill="#437e4f" stroke="#0d0d0d" stroke-width="1.1"/>
<rect x="1071.60" y="1375.75" width="66.21" height="7.9" fill="#5c9c6a" stroke="#0d0d0d" stroke-width="1.1"/>
<rect x="1071.60" y="1386.35" width="70.10" height="7.9" fill="#437e4f" stroke="#0d0d0d" stroke-width="1.1"/>
<rect x="1071.60" y="1396.95" width="68.47" height="7.9" fill="#4a8657" stroke="#0d0d0d" stroke-width="1.1"/>
<rect x="1071.60" y="1407.55" width="70.10" height="7.9" fill="#437e4f" stroke="#0d0d0d" stroke-width="1.1"/>
<rect x="1071.60" y="1418.15" width="70.10" height="7.9" fill="#437e4f" stroke="#0d0d0d" stroke-width="1.1"/>
<rect x="1071.60" y="1428.75" width="70.10" height="7.9" fill="#437e4f" stroke="#0d0d0d" stroke-width="1.1"/>
<rect x="1071.60" y="1439.35" width="70.10" height="7.9" fill="#437e4f" stroke="#0d0d0d" stroke-width="1.1"/>
<rect x="1071.60" y="1449.95" width="70.10" height="7.9" fill="#437e4f" stroke="#0d0d0d" stroke-width="1.1"/>
<rect x="1071.60" y="1460.55" width="70.10" height="7.9" fill="#437e4f" stroke="#0d0d0d" stroke-width="1.1"/>
<rect x="1071.60" y="1471.15" width="70.10" height="7.9" fill="#437e4f" stroke="#0d0d0d" stroke-width="1.1"/>
<rect x="1071.60" y="1481.75" width="70.10" height="7.9" fill="#437e4f" stroke="#0d0d0d" stroke-width="1.1"/>
<rect x="1071.60" y="1492.35" width="70.10" height="7.9" fill="#437e4f" stroke="#0d0d0d" stroke-width="1.1"/>
<rect x="1071.60" y="1502.95" width="70.10" height="7.9" fill="#437e4f" stroke="#0d0d0d" stroke-width="1.1"/>
<rect x="1071.60" y="1513.55" width="70.10" height="7.9" fill="#437e4f" stroke="#0d0d0d" stroke-width="1.1"/>
<rect x="1071.60" y="1524.15" width="70.10" height="7.9" fill="#437e4f" stroke="#0d0d0d" stroke-width="1.1"/>
<rect x="1071.60" y="1534.75" width="70.10" height="7.9" fill="#437e4f" stroke="#0d0d0d" stroke-width="1.1"/>
<rect x="1071.60" y="1545.35" width="64.44" height="7.9" fill="#6ba979" stroke="#0d0d0d" stroke-width="1.1"/>
<rect x="1071.60" y="1555.95" width="69.61" height="7.9" fill="#447f50" stroke="#0d0d0d" stroke-width="1.1"/>
<rect x="1071.60" y="1566.55" width="67.48" height="7.9" fill="#518e5f" stroke="#0d0d0d" stroke-width="1.1"/>
<rect x="1071.60" y="1577.15" width="70.10" height="7.9" fill="#437e4f" stroke="#0d0d0d" stroke-width="1.1"/>
<rect x="1071.60" y="1587.75" width="70.10" height="7.9" fill="#437e4f" stroke="#0d0d0d" stroke-width="1.1"/>
<rect x="1071.60" y="1598.35" width="70.10" height="7.9" fill="#437e4f" stroke="#0d0d0d" stroke-width="1.1"/>
<rect x="1071.60" y="1608.95" width="70.10" height="7.9" fill="#437e4f" stroke="#0d0d0d" stroke-width="1.1"/>
<rect x="1071.60" y="1619.55" width="64.73" height="7.9" fill="#69a776" stroke="#0d0d0d" stroke-width="1.1"/>
<rect x="1071.60" y="1630.15" width="70.10" height="7.9" fill="#437e4f" stroke="#0d0d0d" stroke-width="1.1"/>
<rect x="1071.60" y="1640.75" width="70.10" height="7.9" fill="#437e4f" stroke="#0d0d0d" stroke-width="1.1"/>
<rect x="1071.60" y="1651.35" width="70.10" height="7.9" fill="#437e4f" stroke="#0d0d0d" stroke-width="1.1"/>
<rect x="1071.60" y="1661.95" width="64.23" height="7.9" fill="#6daa7b" stroke="#0d0d0d" stroke-width="1.1"/>
<rect x="1071.60" y="1672.55" width="70.10" height="7.9" fill="#437e4f" stroke="#0d0d0d" stroke-width="1.1"/>
<rect x="1071.60" y="1683.15" width="70.10" height="7.9" fill="#437e4f" stroke="#0d0d0d" stroke-width="1.1"/>
<path d="M85.3 1692.8 V728.5 H1145.2 V1692.8 Z" fill="none" stroke="#1c1c1c" stroke-width="1.3"/>
<line x1="85.0" y1="728" x2="85.0" y2="1693.4" stroke="#2a3030" stroke-width="1.5"/>
<line x1="1071.2" y1="728.5" x2="1071.2" y2="1692.8" stroke="#1c1c1c" stroke-width="1.4"/>
<line x1="714" y1="1110.5" x2="1441.6" y2="946.7" stroke="#939393" stroke-width="1.2"/>
<line x1="757" y1="1174.5" x2="1241.5" y2="1086.3" stroke="#939393" stroke-width="1.2"/>
<line x1="690" y1="1299" x2="1481.8" y2="1537.4" stroke="#939393" stroke-width="1.2"/>
<text font-size="24.2" textLength="196.92" lengthAdjust="spacingAndGlyphs" x="223.47" y="832.30">MCF plexus tumor</text>
<text font-size="24.2" textLength="287.90" lengthAdjust="spacingAndGlyphs" x="376.64" y="969.20">MCF pilocytic astrocytoma</text>
<text font-size="24.2" textLength="150.77" lengthAdjust="spacingAndGlyphs" x="556.58" y="1126.90">MCF IDH GLM</text>
<text font-size="24.2" textLength="105.97" lengthAdjust="spacingAndGlyphs" x="645.00" y="1193.00">MCF GBM</text>
<text font-size="24.2" textLength="100.67" lengthAdjust="spacingAndGlyphs" x="688.51" y="1274.80">MCF ENB</text>
<text font-size="24.2" textLength="111.06" lengthAdjust="spacingAndGlyphs" x="859.39" y="1456.70">MCF ATRT</text>
<text font-size="24.2" textLength="157.92" lengthAdjust="spacingAndGlyphs" x="742.77" y="1574.10">MCF MB G3G4</text>
<text font-size="24.2" textLength="380.36" lengthAdjust="spacingAndGlyphs" x="574.27" y="1616.10">MCF Sonic hedgehog-activated MB</text>
<text font-size="24.2" textLength="99.60" lengthAdjust="spacingAndGlyphs" x="1070.90" y="715.90">Accuracy</text>
<text font-size="27.5" stroke="#fff" stroke-width="0.22" textLength="123.01" lengthAdjust="spacingAndGlyphs" x="516.57" y="1757.60">Predicted</text>
<text font-size="27.5" stroke="#fff" stroke-width="0.22" textLength="133.49" lengthAdjust="spacingAndGlyphs" transform="translate(41.00 1277.30) rotate(-90)">Annotated</text>
<text font-size="24.5" textLength="15.18" lengthAdjust="spacingAndGlyphs" x="1071.18" y="1719.00">0</text>
<text font-size="24.5" textLength="9.77" lengthAdjust="spacingAndGlyphs" x="1133.68" y="1719.00">1</text>
<defs><linearGradient id="cb" x1="0" y1="1" x2="0" y2="0"><stop offset="0.0" stop-color="#ffffff"/><stop offset="0.05" stop-color="#f3f9f4"/><stop offset="0.13" stop-color="#e2f2e5"/><stop offset="0.2" stop-color="#d3ebd8"/><stop offset="0.4" stop-color="#a6d2af"/><stop offset="0.6" stop-color="#7fb98c"/><stop offset="0.8" stop-color="#5c9c6a"/><stop offset="0.87" stop-color="#508d5e"/><stop offset="0.93" stop-color="#488455"/><stop offset="0.96" stop-color="#447f50"/><stop offset="1.0" stop-color="#437e4f"/></linearGradient></defs>
<rect x="1165.1" y="1357.2" width="17.8" height="337.5" fill="url(#cb)"/>
<line x1="1182.9" y1="1695.0" x2="1188.9" y2="1695.0" stroke="#222" stroke-width="1.5"/>
<text font-size="20.0" textLength="12.86" lengthAdjust="spacingAndGlyphs" x="1196.03" y="1701.20">0</text>
<line x1="1182.9" y1="1627.5" x2="1188.9" y2="1627.5" stroke="#222" stroke-width="1.5"/>
<text font-size="20.0" textLength="29.30" lengthAdjust="spacingAndGlyphs" x="1196.11" y="1633.73">0.2</text>
<line x1="1182.9" y1="1560.1" x2="1188.9" y2="1560.1" stroke="#222" stroke-width="1.5"/>
<text font-size="20.0" textLength="28.85" lengthAdjust="spacingAndGlyphs" x="1196.12" y="1566.26">0.4</text>
<line x1="1182.9" y1="1492.6" x2="1188.9" y2="1492.6" stroke="#222" stroke-width="1.5"/>
<text font-size="20.0" textLength="29.18" lengthAdjust="spacingAndGlyphs" x="1196.11" y="1498.79">0.6</text>
<line x1="1182.9" y1="1425.1" x2="1188.9" y2="1425.1" stroke="#222" stroke-width="1.5"/>
<text font-size="20.0" textLength="29.13" lengthAdjust="spacingAndGlyphs" x="1196.11" y="1431.32">0.8</text>
<line x1="1182.9" y1="1357.6" x2="1188.9" y2="1357.6" stroke="#222" stroke-width="1.5"/>
<text font-size="20.0" textLength="27.21" lengthAdjust="spacingAndGlyphs" x="1195.43" y="1363.85">1.0</text>
<rect x="1455.30" y="724.80" width="57.17" height="70.93" fill="#447f50"/>
<rect x="1514.27" y="724.80" width="57.17" height="70.93" fill="#e2f2e5"/>
<rect x="1573.23" y="724.80" width="57.17" height="70.93" fill="#f3f9f4"/>
<rect x="1455.30" y="797.53" width="57.17" height="70.93" fill="#f9fcf9"/>
<rect x="1514.27" y="797.53" width="57.17" height="70.93" fill="#508d5e"/>
<rect x="1573.23" y="797.53" width="57.17" height="70.93" fill="#f9fcfa"/>
<rect x="1573.23" y="870.27" width="57.17" height="70.93" fill="#488455"/>
<rect x="1454.4" y="723.9" width="176.9" height="218.2" fill="none" stroke="#1a1a1a" stroke-width="1.5"/>
<text font-size="19.8" fill="#fff" textLength="41.64" lengthAdjust="spacingAndGlyphs" x="1463.13" y="766.20">0.96</text>
<text font-size="19.8" textLength="37.15" lengthAdjust="spacingAndGlyphs" x="1524.33" y="766.20">0.13</text>
<text font-size="19.8" textLength="40.86" lengthAdjust="spacingAndGlyphs" x="1581.43" y="766.20">0.05</text>
<text font-size="19.8" textLength="53.20" lengthAdjust="spacingAndGlyphs" x="1457.34" y="839.00">0.026</text>
<text font-size="19.8" fill="#fff" textLength="41.12" lengthAdjust="spacingAndGlyphs" x="1522.41" y="839.00">0.87</text>
<text font-size="19.8" textLength="53.77" lengthAdjust="spacingAndGlyphs" x="1574.96" y="839.00">0.025</text>
<text font-size="19.8" textLength="12.75" lengthAdjust="spacingAndGlyphs" x="1477.52" y="911.70">0</text>
<text font-size="19.8" textLength="12.75" lengthAdjust="spacingAndGlyphs" x="1536.49" y="911.70">0</text>
<text font-size="19.8" fill="#fff" textLength="41.95" lengthAdjust="spacingAndGlyphs" x="1580.91" y="911.70">0.93</text>
<text font-size="20.0" textLength="216.04" lengthAdjust="spacingAndGlyphs" x="1233.45" y="766.30"><tspan font-style="italic">IDH</tspan>-mutant astrocytoma</text>
<text font-size="20.0" textLength="251.17" lengthAdjust="spacingAndGlyphs" x="1198.31" y="839.10">High-grade <tspan font-style="italic">IDH</tspan> astrocytoma</text>
<text font-size="20.0" textLength="275.13" lengthAdjust="spacingAndGlyphs" x="1174.34" y="911.80"><tspan font-style="italic">IDH</tspan>-mutant oligodendroglioma</text>
<text font-size="20.0" textLength="101.15" lengthAdjust="spacingAndGlyphs" transform="translate(1472.80 1049.84) rotate(-90)"><tspan font-style="italic">IDH</tspan>-mutant</text>
<text font-size="20.0" textLength="109.94" lengthAdjust="spacingAndGlyphs" transform="translate(1494.60 1058.76) rotate(-90)">astrocytoma</text>
<text font-size="20.0" textLength="135.30" lengthAdjust="spacingAndGlyphs" transform="translate(1531.00 1084.16) rotate(-90)">High-grade <tspan font-style="italic">IDH</tspan></text>
<text font-size="20.0" textLength="109.94" lengthAdjust="spacingAndGlyphs" transform="translate(1553.40 1058.76) rotate(-90)">astrocytoma</text>
<text font-size="20.0" textLength="101.15" lengthAdjust="spacingAndGlyphs" transform="translate(1589.70 1049.84) rotate(-90)"><tspan font-style="italic">IDH</tspan>-mutant</text>
<text font-size="20.0" textLength="115.10" lengthAdjust="spacingAndGlyphs" transform="translate(1610.40 1063.03) rotate(-90)">oligodendro-</text>
<text font-size="20.0" textLength="58.16" lengthAdjust="spacingAndGlyphs" transform="translate(1631.60 1006.99) rotate(-90)">glioma</text>
<rect x="1349.90" y="1086.30" width="47.30" height="49.18" fill="#61a06f"/>
<rect x="1539.10" y="1086.30" width="47.30" height="49.18" fill="#f0f8f2"/>
<rect x="1397.20" y="1135.48" width="47.30" height="49.18" fill="#488455"/>
<rect x="1586.40" y="1135.48" width="47.30" height="49.18" fill="#edf7ef"/>
<rect x="1444.50" y="1184.67" width="47.30" height="49.18" fill="#437e4f"/>
<rect x="1586.40" y="1184.67" width="47.30" height="49.18" fill="#edf7ef"/>
<rect x="1397.20" y="1233.85" width="47.30" height="49.18" fill="#eff7f0"/>
<rect x="1491.80" y="1233.85" width="47.30" height="49.18" fill="#4d8a5b"/>
<rect x="1539.10" y="1233.85" width="47.30" height="49.18" fill="#ecf6ee"/>
<rect x="1349.90" y="1283.03" width="47.30" height="49.18" fill="#cce7d2"/>
<rect x="1491.80" y="1283.03" width="47.30" height="49.18" fill="#e6f4e9"/>
<rect x="1539.10" y="1283.03" width="47.30" height="49.18" fill="#539161"/>
<rect x="1586.40" y="1332.22" width="47.30" height="49.18" fill="#539161"/>
<rect x="1349.9" y="1086.3" width="283.8" height="295.1" fill="none" stroke="#1a1a1a" stroke-width="1.5"/>
<text font-size="14.8" fill="#fff" textLength="30.45" lengthAdjust="spacingAndGlyphs" x="1358.41" y="1116.60">0.77</text>
<text font-size="14.8" textLength="11.12" lengthAdjust="spacingAndGlyphs" x="1415.30" y="1116.60">0</text>
<text font-size="14.8" textLength="11.12" lengthAdjust="spacingAndGlyphs" x="1462.60" y="1116.60">0</text>
<text font-size="14.8" textLength="11.12" lengthAdjust="spacingAndGlyphs" x="1509.90" y="1116.60">0</text>
<text font-size="14.8" textLength="42.97" lengthAdjust="spacingAndGlyphs" x="1541.31" y="1116.60">0.063</text>
<text font-size="14.8" textLength="11.12" lengthAdjust="spacingAndGlyphs" x="1604.50" y="1116.60">0</text>
<text font-size="14.8" textLength="11.12" lengthAdjust="spacingAndGlyphs" x="1368.00" y="1162.70">0</text>
<text font-size="14.8" fill="#fff" textLength="32.56" lengthAdjust="spacingAndGlyphs" x="1404.62" y="1162.70">0.93</text>
<text font-size="14.8" textLength="11.12" lengthAdjust="spacingAndGlyphs" x="1462.60" y="1162.70">0</text>
<text font-size="14.8" textLength="11.12" lengthAdjust="spacingAndGlyphs" x="1509.90" y="1162.70">0</text>
<text font-size="14.8" textLength="11.12" lengthAdjust="spacingAndGlyphs" x="1557.20" y="1162.70">0</text>
<text font-size="14.8" textLength="40.58" lengthAdjust="spacingAndGlyphs" x="1589.84" y="1162.70">0.077</text>
<text font-size="14.8" textLength="11.12" lengthAdjust="spacingAndGlyphs" x="1368.00" y="1214.10">0</text>
<text font-size="14.8" textLength="11.12" lengthAdjust="spacingAndGlyphs" x="1415.30" y="1214.10">0</text>
<text font-size="14.8" fill="#fff" textLength="7.20" lengthAdjust="spacingAndGlyphs" x="1464.38" y="1214.10">1</text>
<text font-size="14.8" textLength="11.12" lengthAdjust="spacingAndGlyphs" x="1509.90" y="1214.10">0</text>
<text font-size="14.8" textLength="11.12" lengthAdjust="spacingAndGlyphs" x="1557.20" y="1214.10">0</text>
<text font-size="14.8" textLength="40.58" lengthAdjust="spacingAndGlyphs" x="1589.84" y="1214.10">0.077</text>
<text font-size="14.8" textLength="11.12" lengthAdjust="spacingAndGlyphs" x="1368.00" y="1265.50">0</text>
<text font-size="14.8" textLength="38.41" lengthAdjust="spacingAndGlyphs" x="1401.72" y="1265.50">0.071</text>
<text font-size="14.8" textLength="11.12" lengthAdjust="spacingAndGlyphs" x="1462.60" y="1265.50">0</text>
<text font-size="14.8" fill="#fff" textLength="32.60" lengthAdjust="spacingAndGlyphs" x="1499.22" y="1265.50">0.89</text>
<text font-size="14.8" textLength="43.33" lengthAdjust="spacingAndGlyphs" x="1541.00" y="1265.50">0.084</text>
<text font-size="14.8" textLength="43.33" lengthAdjust="spacingAndGlyphs" x="1588.30" y="1265.50">0.084</text>
<text font-size="14.8" textLength="31.94" lengthAdjust="spacingAndGlyphs" x="1357.63" y="1313.00">0.23</text>
<text font-size="14.8" textLength="11.12" lengthAdjust="spacingAndGlyphs" x="1415.30" y="1313.00">0</text>
<text font-size="14.8" textLength="11.12" lengthAdjust="spacingAndGlyphs" x="1462.60" y="1313.00">0</text>
<text font-size="14.8" textLength="26.54" lengthAdjust="spacingAndGlyphs" x="1502.27" y="1313.00">0.11</text>
<text font-size="14.8" fill="#fff" textLength="32.20" lengthAdjust="spacingAndGlyphs" x="1546.68" y="1313.00">0.85</text>
<text font-size="14.8" textLength="32.20" lengthAdjust="spacingAndGlyphs" x="1593.98" y="1313.00">0.85</text>
<text font-size="14.8" textLength="11.12" lengthAdjust="spacingAndGlyphs" x="1368.00" y="1363.50">0</text>
<text font-size="14.8" textLength="11.12" lengthAdjust="spacingAndGlyphs" x="1415.30" y="1363.50">0</text>
<text font-size="14.8" textLength="11.12" lengthAdjust="spacingAndGlyphs" x="1462.60" y="1363.50">0</text>
<text font-size="14.8" textLength="11.12" lengthAdjust="spacingAndGlyphs" x="1509.90" y="1363.50">0</text>
<text font-size="14.8" textLength="11.12" lengthAdjust="spacingAndGlyphs" x="1557.20" y="1363.50">0</text>
<text font-size="14.8" fill="#fff" textLength="32.20" lengthAdjust="spacingAndGlyphs" x="1593.98" y="1363.50">0.85</text>
<text font-size="18.7" textLength="169.91" lengthAdjust="spacingAndGlyphs" x="1172.24" y="1117.50">Mesenchymal GBM</text>
<text font-size="18.7" textLength="112.06" lengthAdjust="spacingAndGlyphs" x="1230.13" y="1163.60">Midline GBM</text>
<text font-size="18.7" textLength="181.98" lengthAdjust="spacingAndGlyphs" x="1159.45" y="1215.00">GBM, MYCN subtype</text>
<text font-size="18.7" textLength="96.54" lengthAdjust="spacingAndGlyphs" x="1245.70" y="1266.70">GBM, RTK I</text>
<text font-size="18.7" textLength="101.60" lengthAdjust="spacingAndGlyphs" x="1240.60" y="1314.20">GBM, RTK II</text>
<text font-size="18.7" textLength="106.92" lengthAdjust="spacingAndGlyphs" x="1235.30" y="1364.70">GBM, RTK III</text>
<text font-size="18.7" textLength="96.43" lengthAdjust="spacingAndGlyphs" transform="translate(1367.90 1486.18) rotate(-90)">Mesenchy-</text>
<text font-size="18.7" textLength="80.18" lengthAdjust="spacingAndGlyphs" transform="translate(1388.50 1469.25) rotate(-90)">mal GBM</text>
<text font-size="18.7" textLength="112.57" lengthAdjust="spacingAndGlyphs" transform="translate(1427.20 1501.57) rotate(-90)">Midline GBM</text>
<text font-size="18.7" textLength="106.81" lengthAdjust="spacingAndGlyphs" transform="translate(1462.10 1495.92) rotate(-90)">GBM, MYCN</text>
<text font-size="18.7" textLength="70.41" lengthAdjust="spacingAndGlyphs" transform="translate(1483.10 1460.15) rotate(-90)">subtype</text>
<text font-size="18.7" textLength="96.95" lengthAdjust="spacingAndGlyphs" transform="translate(1520.70 1485.90) rotate(-90)">GBM, RTK I</text>
<text font-size="18.7" textLength="102.42" lengthAdjust="spacingAndGlyphs" transform="translate(1568.10 1491.41) rotate(-90)">GBM, RTK II</text>
<text font-size="18.7" textLength="107.53" lengthAdjust="spacingAndGlyphs" transform="translate(1615.20 1496.51) rotate(-90)">GBM, RTK III</text>
<rect x="1499.50" y="1537.40" width="67.05" height="83.10" fill="#447f50"/>
<rect x="1566.55" y="1537.40" width="67.05" height="83.10" fill="#e2f2e5"/>
<rect x="1566.55" y="1620.50" width="67.05" height="83.10" fill="#508d5e"/>
<rect x="1499.5" y="1537.4" width="134.1" height="166.2" fill="none" stroke="#1a1a1a" stroke-width="1.5"/>
<text font-size="19" fill="#fff" textLength="38.19" lengthAdjust="spacingAndGlyphs" x="1514.04" y="1584.10">0.91</text>
<text font-size="19" textLength="38.56" lengthAdjust="spacingAndGlyphs" x="1580.88" y="1584.10">0.19</text>
<text font-size="19" textLength="52.17" lengthAdjust="spacingAndGlyphs" x="1507.04" y="1667.50">0.087</text>
<text font-size="19" fill="#fff" textLength="37.46" lengthAdjust="spacingAndGlyphs" x="1581.45" y="1667.50">0.81</text>
<text font-size="18.7" textLength="58.58" lengthAdjust="spacingAndGlyphs" transform="translate(1489.80 1608.10) rotate(-90)">ENB, A</text>
<text font-size="18.7" textLength="58.75" lengthAdjust="spacingAndGlyphs" transform="translate(1489.80 1691.03) rotate(-90)">ENB, B</text>
<text font-size="18.7" textLength="59.70" lengthAdjust="spacingAndGlyphs" x="1502.42" y="1725.40">ENB, A</text>
<text font-size="18.7" textLength="58.75" lengthAdjust="spacingAndGlyphs" x="1570.17" y="1725.40">ENB, B</text>
</svg>
</body></html>
